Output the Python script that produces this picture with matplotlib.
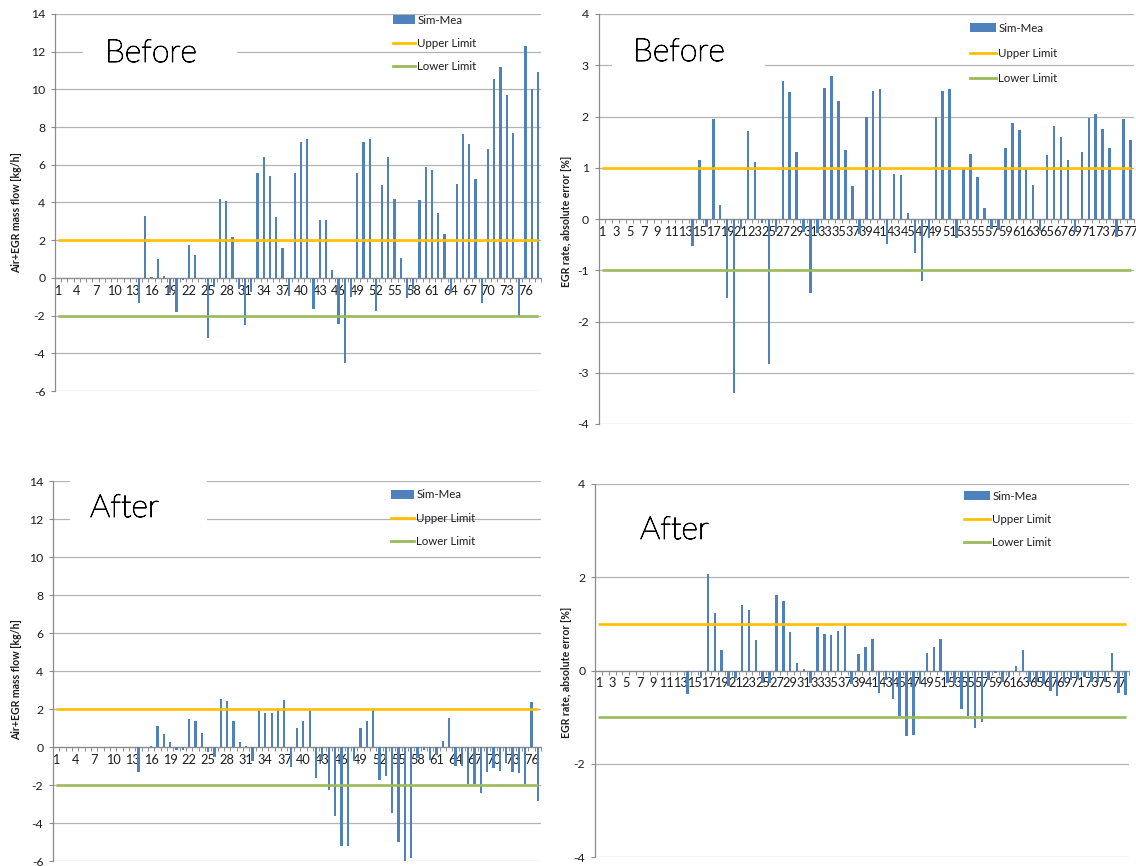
import numpy as np
import matplotlib
matplotlib.use("Agg")
import matplotlib.pyplot as plt
import matplotlib.patheffects as pe
from matplotlib.patches import Rectangle, Patch
from matplotlib.lines import Line2D

plt.rcParams['font.family'] = ['Lato', 'DejaVu Sans']

W, H = 1136, 866

# ---------------- data ----------------
# Air+EGR mass flow error, Sim-Mea [kg/h]
mass_before = [0, 0, 0, 0, 0, 0, 0, 0, 0, 0, 0, 0, 0,
               -1.35, 3.30, 0.03, 1.00, 0.08, -0.80, -1.82, -0.12, 1.75, 1.20,
               -0.05, -3.18, -0.50, 4.20, 4.08, 2.17, -0.58, -2.50, -0.76, 5.58,
               6.41, 5.40, 3.25, 1.57, -0.97, 5.55, 7.23, 7.37, -1.63, 3.06,
               3.09, 0.41, -2.44, -4.50, -1.00, 5.55, 7.23, 7.37, -1.77, 4.91,
               6.41, 4.17, 1.06, -1.06, -0.60, 4.12, 5.87, 5.74, 3.46, 2.33,
               -0.80, 4.98, 7.63, 7.08, 5.27, -1.33, 6.82, 10.55, 11.17, 9.72,
               7.70, -2.03, 12.28, 10.04, 10.90]
mass_after = [0, 0, 0, 0, 0, 0, 0, 0, 0, 0, 0, 0, 0,
              -1.33, 0.00, 0.03, 1.09, 0.67, 0.25, -0.18, -0.14, 1.46, 1.39,
              0.74, -0.28, -0.53, 2.51, 2.40, 1.39, 0.28, 0.04, -0.75, 1.96,
              1.81, 1.81, 1.96, 2.47, -1.05, 1.00, 1.39, 1.96, -1.63, -0.70,
              -2.26, -3.63, -5.19, -5.19, -0.75, 1.00, 1.39, 1.96, -1.75, -1.54,
              -3.47, -4.98, -5.98, -5.84, -0.58, -0.18, -0.67, -0.44, 0.33, 1.53,
              -1.00, -1.00, -1.95, -1.93, -2.42, -1.32, -1.10, -1.25, -0.84, -1.33,
              -1.37, -1.95, 2.37, -2.86]
# EGR rate absolute error, Sim-Mea [%]
egr_before = [0, 0, 0, 0, 0, 0, 0, 0, 0, 0, 0, 0, 0,
              -0.52, 1.16, -0.15, 1.96, 0.27, -1.55, -3.40, -0.17, 1.72, 1.12,
              -0.08, -2.83, -0.25, 2.69, 2.48, 1.31, -0.25, -1.44, -0.28, 2.56,
              2.79, 2.30, 1.35, 0.64, -0.30, 1.99, 2.49, 2.53, -0.49, 0.87,
              0.85, 0.11, -0.67, -1.20, -0.38, 1.99, 2.49, 2.53, -0.38, 0.98,
              1.26, 0.81, 0.21, -0.20, -0.21, 1.38, 1.88, 1.74, 0.98, 0.67,
              -0.23, 1.24, 1.81, 1.60, 1.16, -0.25, 1.31, 1.98, 2.04, 1.75,
              1.39, -0.35, 1.95, 1.55]
egr_after = [0, 0, 0, 0, 0, 0, 0, 0, 0, 0, 0, 0, 0,
             -0.51, 0.00, -0.16, 2.07, 1.23, 0.45, -0.33, -0.17, 1.40, 1.29,
             0.65, -0.26, -0.26, 1.62, 1.48, 0.82, 0.17, 0.04, -0.26, 0.94,
             0.79, 0.77, 0.84, 1.00, -0.30, 0.36, 0.50, 0.67, -0.48, -0.21,
             -0.62, -0.98, -1.40, -1.38, -0.28, 0.37, 0.50, 0.67, -0.26, -0.26,
             -0.82, -0.97, -1.23, -1.10, -0.20, -0.06, -0.25, -0.13, 0.09, 0.45,
             -0.25, -0.25, -0.30, -0.44, -0.55, -0.24, -0.21, -0.19, -0.14, -0.24,
             -0.24, -0.24, 0.38, -0.49, -0.52]

mass_limits = (2.0, -2.0)
egr_limits = (1.0, -1.0)
mass_yticks = [-6, -4, -2, 0, 2, 4, 6, 8, 10, 12, 14]
egr_before_yticks = [-4, -3, -2, -1, 0, 1, 2, 3, 4]
egr_after_yticks = [-4, -2, 0, 2, 4]
legend_labels = ["Sim-Mea", "Upper Limit", "Lower Limit"]

BLUE = "#4F81BD"
YELLOW = "#FFC000"
GREEN = "#9BBB59"
GRID = "#B4B4B4"
AXIS = "#8C8C8C"
TXT = "#1E1E1E"

fig = plt.figure(figsize=(W / 100, H / 100), dpi=100)


def px_axes(x0, x1, ytop, ybot):
    return fig.add_axes([x0 / W, 1 - ybot / H, (x1 - x0) / W, (ybot - ytop) / H])


def draw_panel(ax, values, yticks, limits, step):
    n = len(values)
    cats = np.arange(1, n + 1)
    ax.bar(cats, values, width=0.36, color=BLUE, zorder=2, linewidth=0)
    ax.plot(cats, [limits[0]] * n, color=YELLOW, lw=1.9, zorder=3,
            solid_capstyle='butt')
    ax.plot(cats, [limits[1]] * n, color=GREEN, lw=1.9, zorder=3,
            solid_capstyle='butt')
    ax.set_xlim(0.5, n + 0.5)
    ax.set_ylim(yticks[0], yticks[-1])
    ax.set_yticks(yticks)
    ax.set_yticklabels([str(t) for t in yticks])
    ax.grid(axis='y', color=GRID, lw=0.9, zorder=0)
    ax.set_axisbelow(True)
    for s in ('top', 'right'):
        ax.spines[s].set_visible(False)
    ax.spines['left'].set_color(AXIS)
    ax.spines['left'].set_linewidth(0.9)
    ax.spines['bottom'].set_position(('data', 0))
    ax.spines['bottom'].set_color(AXIS)
    ax.spines['bottom'].set_linewidth(0.9)
    ax.spines['bottom'].set_zorder(1)
    lab = np.arange(1, n + 1, step)
    ax.set_xticks(lab)
    ax.set_xticklabels([str(v) for v in lab])
    ax.set_xticks(np.arange(0.5, n + 1, 1.0), minor=True)
    ax.tick_params(axis='x', which='major', length=0, pad=5.0,
                   labelsize=9.2, labelcolor=TXT)
    ax.tick_params(axis='x', which='minor', length=3, width=0.7,
                   color=AXIS, direction='out')
    ax.tick_params(axis='y', length=3, width=0.8, color=AXIS,
                   direction='out', labelsize=8.8, labelcolor=TXT, pad=4)


def add_legend(x, ytop, spacing, hlen):
    handles = [Patch(facecolor=BLUE, edgecolor='none'),
               Line2D([], [], color=YELLOW, lw=2.0),
               Line2D([], [], color=GREEN, lw=2.0)]
    fig.legend(handles, legend_labels, loc='upper left',
               bbox_to_anchor=(x / W, 1 - ytop / H), frameon=False,
               fontsize=8.3, handlelength=hlen, handletextpad=0.2,
               labelspacing=spacing, borderpad=0, borderaxespad=0,
               labelcolor=TXT)


def add_title_box(text, tx, baseline, box):
    x0, y0, x1, y1 = box
    fig.add_artist(Rectangle((x0 / W, 1 - y1 / H), (x1 - x0) / W, (y1 - y0) / H,
                             transform=fig.transFigure, facecolor='white',
                             edgecolor='none', zorder=5))
    fig.text(tx / W, 1 - baseline / H, text, fontsize=23, fontweight='light',
             color='#000000', va='baseline', ha='left', zorder=6,
             path_effects=[pe.withStroke(linewidth=0.7, foreground='#000000')])


# top-left: mass flow, before
ax1 = px_axes(55, 541, 14, 391)
draw_panel(ax1, mass_before, mass_yticks, mass_limits, 3)
# top-right: EGR rate, before
ax2 = px_axes(598.5, 1134, 14, 424)
draw_panel(ax2, egr_before, egr_before_yticks, egr_limits, 2)
# bottom-left: mass flow, after
ax3 = px_axes(53, 541, 481, 861)
draw_panel(ax3, mass_after, mass_yticks, mass_limits, 3)
# bottom-right: EGR rate, after
ax4 = px_axes(595, 1129, 484, 857)
draw_panel(ax4, egr_after, egr_after_yticks, egr_limits, 2)

# axis titles
ylab_mass = "Air+EGR mass flow [kg/h]"
ylab_egr = "EGR rate, absolute error [%]"
for (x, y, s) in [(17, 213, ylab_mass), (17, 680, ylab_mass),
                  (566, 221, ylab_egr), (566, 672, ylab_egr)]:
    fig.text(x / W, 1 - y / H, s, rotation=90, ha='center', va='center',
             fontsize=7.6, fontweight='bold', color=TXT)

# legends
add_legend(393, 14.5, 1.07, 1.9)
add_legend(970, 22.5, 1.25, 2.25)
add_legend(391, 489.5, 1.07, 2.0)
add_legend(964, 490.5, 1.05, 2.25)

# panel captions on white boxes
add_title_box("Before", 105, 62, (83, 28, 237, 76))
add_title_box("Before", 633, 61, (612, 28, 765, 80))
add_title_box("After", 90, 517, (70, 470, 207, 535))
add_title_box("After", 640, 539, (620, 500, 760, 565))

fig.savefig("out.png", dpi=100)
